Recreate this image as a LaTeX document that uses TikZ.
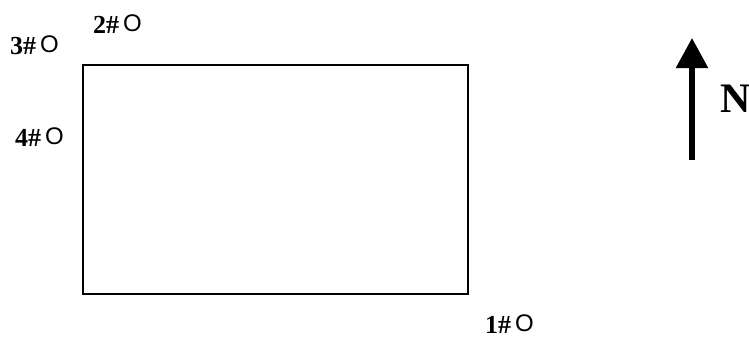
\documentclass[tikz,border=0pt]{standalone}
\usepackage{fontspec}
\setmainfont{Liberation Serif}
\newfontfamily\symfont{Liberation Sans}
\usepackage{tikz}
\usetikzlibrary{arrows.meta}

\newcommand{\well}[1]{{\bfseries #1\#}\hspace{4pt}\raisebox{1.5pt}{\symfont\fontsize{24}{26}\selectfont O}}

\begin{document}
\begin{tikzpicture}[x=1pt,y=-1pt,
	  lbl/.style={anchor=base west,inner sep=0pt,font=\fontsize{26}{28}\selectfont},
	  northarrow/.style={line width=5.5pt,-{Triangle[width=31pt,length=30pt]}}]
	  \useasboundingbox (0,0) rectangle (749,340);
	  \draw [line width=1.5pt] (83,65) rectangle (468,294);
	  \node [lbl] (w3) at (10,54) {\well{3}};
	  \node [lbl] (w2) at (93,33) {\well{2}};
	  \node [lbl] (w4) at (15,146) {\well{4}};
	  \node [lbl] (w1) at (485,333) {\well{1}};
	  \coordinate (tail) at (692,160);
	  \coordinate (tip) at (692,38);
	  \draw [northarrow] (tail) -- (tip);
	  \node [anchor=base west,inner sep=0pt,font=\fontsize{42}{46}\selectfont\bfseries] (north) at (720,112) {N};
	 \end{tikzpicture}
\end{document}
